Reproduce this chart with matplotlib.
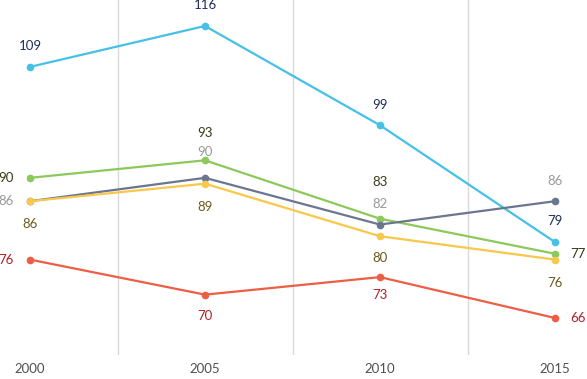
import matplotlib.pyplot as plt

years = ["2000", "2005", "2010", "2015"]
blue = [109, 116, 99, 79]
green = [90, 93, 83, 77]
gray = [86, 90, 82, 86]
yellow = [86, 89, 80, 76]
red = [76, 70, 73, 66]

plt.rcParams['font.family'] = ['Lato', 'DejaVu Sans']

fig = plt.figure(figsize=(5.87, 3.79), dpi=100)
ax = fig.add_axes([0, 24/379, 1, 355/379])
x = list(range(len(years)))

# label offsets in pixels (dx, dy), positive dy = up
series = [
    (blue, "#45C0E6", "#1F2F5A", [(0, 21), (0, 21), (0, 20), (0, 21)]),
    (green, "#8DC85A", "#3A3A1A", [(-24, 0), (0, 27), (0, 37), (23, 0)]),
    (gray, "#6A7690", "#9A9A9A", [(-24, 0), (0, 26), (0, 21), (0, 20)]),
    (yellow, "#F8C84A", "#6B5A1E", [(0, -23), (0, -23), (0, -22), (0, -23)]),
    (red, "#EE5E45", "#B0202A", [(-24, 0), (0, -21), (0, -18), (23, 0)]),
]
for vals, lc, tc, offs in series:
    ax.plot(x, vals, color=lc, lw=1.6, marker="o", ms=4.5, zorder=3)
    for xi, v, (dx, dy) in zip(x, vals, offs):
        ax.annotate(str(v), (xi, v), xytext=(dx * 0.72, dy * 0.72), textcoords="offset points",
                    ha="center", va="center", color=tc, fontsize=9.5)

for g in [0.5, 1.5, 2.5]:
    ax.axvline(g, color="#D9D9D9", lw=1, zorder=0)

ax.set_xlim(-30/175, 557/175)
ax.set_ylim(116 - 329/5.84, 116 + 26/5.84)
ax.set_xticks(x)
ax.set_xticklabels(years, fontsize=9.5, color="#505050")
ax.tick_params(axis="x", length=0, pad=6)
ax.set_yticks([])
for s in ax.spines.values():
    s.set_visible(False)

fig.savefig("out.png", dpi=100)
